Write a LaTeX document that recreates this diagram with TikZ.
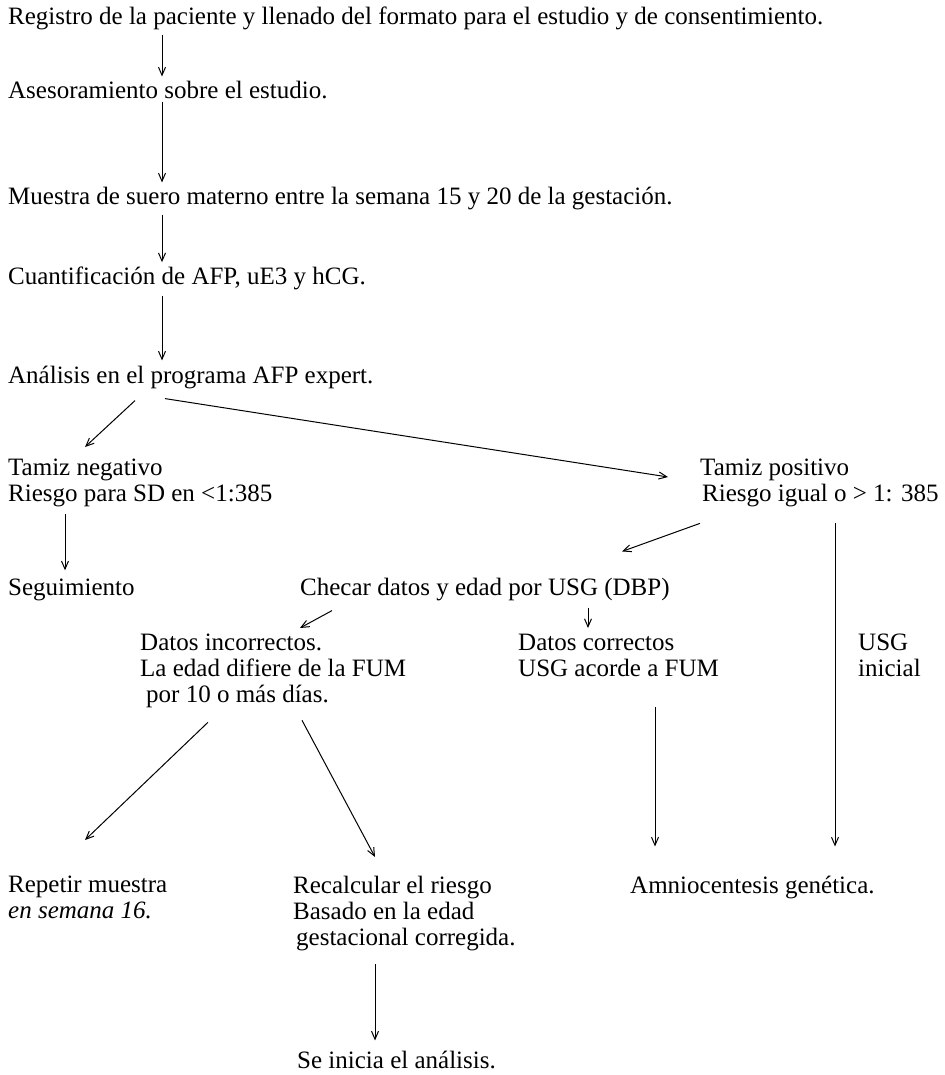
\documentclass[tikz,border=0pt]{standalone}
\usepackage{fontspec}
\setmainfont{Liberation Serif}
\usetikzlibrary{arrows.meta, positioning}

\begin{document}
\begin{tikzpicture}[
    x=1pt, y=-1pt,
    >={Straight Barb[length=8pt,width=7pt]},
    every node/.style={font=\fontsize{25}{26}\selectfont, inner sep=0pt},
    line/.style={anchor=base west},
    block/.style={anchor=north west, align=left},
    flow/.style={->, line width=1pt}
]

\useasboundingbox (0,0) rectangle (944,1075);

% pasos
\node[line] (reg) at (8,25) {Registro de la paciente y llenado del formato para el estudio y de consentimiento.};
\node[line] (ases) at (8,99) {Asesoramiento sobre el estudio.};
\node[line] (muestra) at (8,205) {Muestra de suero materno entre la semana 15 y 20 de la gestación.};
\node[line] (cuant) at (8,284) {Cuantificación de AFP, uE3 y hCG.};
\node[line] (anal) at (8,383) {Análisis en el programa AFP expert.};
\node[block] (neg) at (8,459) {Tamiz negativo\\Riesgo para SD en <1:385};
\node[block] (pos) at (700,459) {Tamiz positivo\\\hspace*{2pt}Riesgo igual o > 1: 385};
\node[line] (seg) at (8,595) {Seguimiento};
\node[line] (checar) at (300,595) {Checar datos y edad por USG (DBP)};
\node[block] (incorr) at (140,634) {Datos incorrectos.\\La edad difiere de la FUM\\\hspace*{6pt}por 10 o más días.};
\node[block] (corr) at (518,634) {Datos correctos\\USG acorde a FUM};
\node[block] (usg) at (858,634) {USG\\inicial};
\node[block] (repetir) at (8,876) {Repetir muestra\\\textit{en semana 16.}};
\node[block] (recalc) at (293,876) {Recalcular el riesgo\\Basado en la edad\\\hspace*{3pt}gestacional corregida.};
\node[line] (amnio) at (630,893) {Amniocentesis genética.};
\node[line] (inicia) at (297,1068) {Se inicia el análisis.};

% flechas
\path[flow]
([xshift=154pt,yshift=-4pt]reg.south west) edge ([xshift=154pt,yshift=5pt]ases.north west)
([xshift=154pt,yshift=-2pt]ases.south west) edge ([xshift=154pt,yshift=5pt]muestra.north west)
([xshift=154pt,yshift=-4pt]muestra.south west) edge ([xshift=154pt,yshift=4pt]cuant.north west)
([xshift=154pt,yshift=-6pt]cuant.south west) edge ([xshift=154pt,yshift=5pt]anal.north west)
([xshift=127pt,yshift=-12pt]anal.south west) edge ([xshift=77pt,yshift=12pt]neg.north west)
([xshift=157pt,yshift=-10pt]anal.south west) edge ([xshift=-32pt,yshift=-18pt]pos.north west)
([xshift=57pt,yshift=-7pt]neg.south west) edge ([xshift=57pt,yshift=8pt]seg.north west)
([xshift=0pt,yshift=-16pt]pos.south west) edge ([xshift=322pt,yshift=26pt]checar.north west)
([xshift=135pt,yshift=-16pt]pos.south west) edge ([xshift=205pt,yshift=29pt]amnio.north west)
([xshift=32pt,yshift=-10pt]checar.south west) edge ([xshift=160pt,yshift=6pt]incorr.north west)
([xshift=288pt,yshift=-7pt]checar.south west) edge ([xshift=70pt,yshift=6pt]corr.north west)
([xshift=68pt,yshift=-14pt]incorr.south west) edge ([xshift=77pt,yshift=36pt]repetir.north west)
([xshift=162pt,yshift=-12pt]incorr.south west) edge ([xshift=82pt,yshift=19pt]recalc.north west)
([xshift=137pt,yshift=-30pt]corr.south west) edge ([xshift=25pt,yshift=29pt]amnio.north west)
([xshift=82pt,yshift=-13pt]recalc.south west) edge ([xshift=78pt,yshift=10pt]inicia.north west);

\end{tikzpicture}
\end{document}
